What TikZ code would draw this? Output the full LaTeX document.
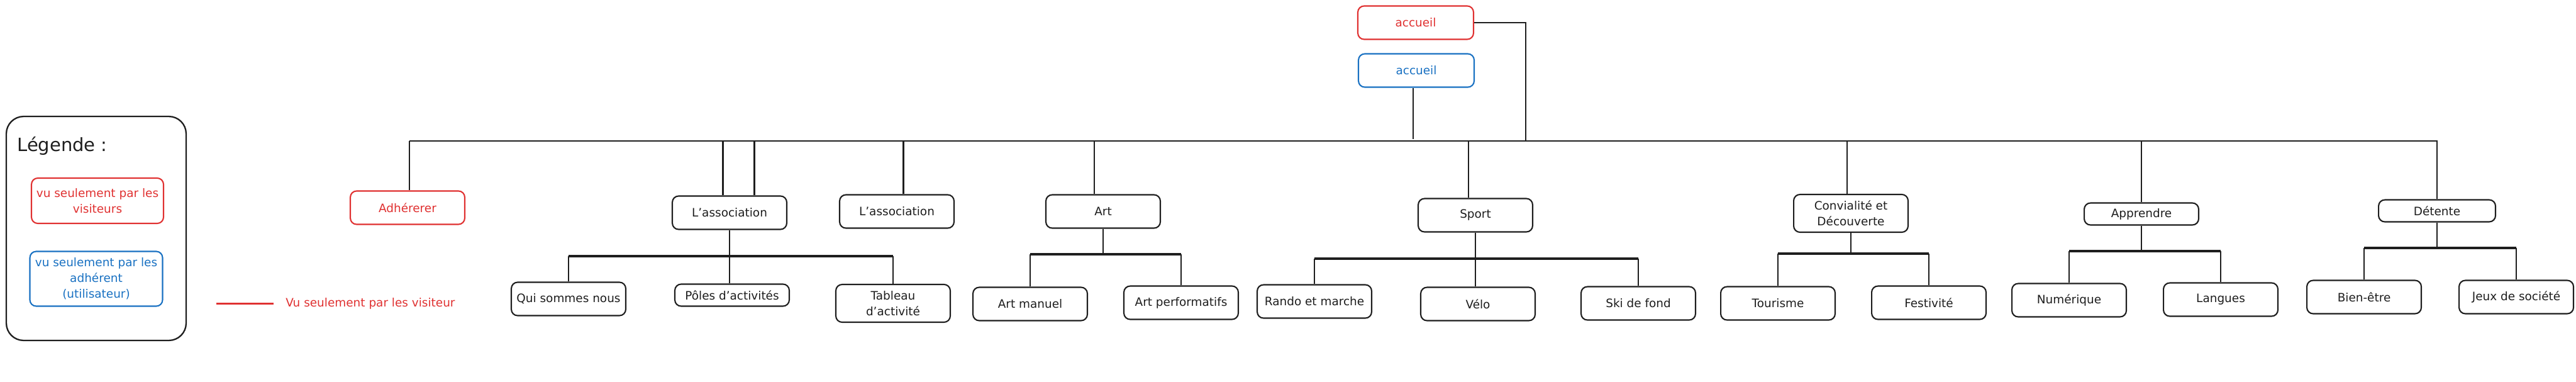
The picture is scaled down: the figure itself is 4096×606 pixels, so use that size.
\documentclass[tikz,border=0pt]{standalone}
\usepackage{fontspec}
\setmainfont{DejaVu Sans}
\definecolor{ink}{HTML}{1E1E1E}
\definecolor{exred}{HTML}{E03131}
\definecolor{exblue}{HTML}{1971C2}

\begin{document}
\begin{tikzpicture}[x=0.02cm,y=-0.02cm,
    box/.style={draw=ink,line width=1.2pt,rounded corners=0.2cm,minimum width=3.64cm,minimum height=1.06cm,inner sep=2pt,align=center,text=ink,font=\fontsize{10.5}{14.2}\selectfont},
    lowbox/.style={box,minimum height=0.7cm},
    tallbox/.style={box,minimum height=1.2cm},
    redbox/.style={box,draw=exred,text=exred},
    bluebox/.style={box,draw=exblue,text=exblue},
    link/.style={draw=ink,line width=1.2pt},
    bus/.style={draw=ink,line width=1.4pt},
    subbus/.style={draw=ink,line width=2pt}]

    \path[fill=white] (0,0) rectangle (4096,606);

    % legende
    \node[draw=ink,line width=1.3pt,rounded corners=0.55cm,minimum width=5.72cm,minimum height=7.12cm] (legend) at (153,363) {};
    \node[anchor=west,inner sep=0pt,text=ink,font=\fontsize{16.5}{19}\selectfont] (legtitle) at (27,232) {Légende :};
    \node[redbox,minimum width=4.2cm,minimum height=1.44cm] (legred) at (155,319) {vu seulement par les\\visiteurs};
    \node[bluebox,minimum width=4.22cm,minimum height=1.74cm] (legblue) at (153,443) {vu seulement par les\\adhérent\\(utilisateur)};
    \coordinate (keyA) at (344,482);
    \coordinate (keyB) at (435,482);
    \draw[exred,line width=1.7pt] (keyA) -- (keyB);
    \node[anchor=west,inner sep=0pt,text=exred,font=\fontsize{10.5}{14.2}\selectfont] (keytext) at (454,482) {Vu seulement par les visiteur};

    % accueil
    \node[redbox,minimum width=3.68cm] (accR) at (2251,36) {accueil};
    \node[bluebox,minimum width=3.68cm] (accB) at (2252,112) {accueil};

    % premier niveau
    \node[redbox] (adh) at (648,330) {Adhérerer};
    \node[box] (asso) at (1160,338) {L'association};
    \node[box] (asso2) at (1426,336) {L'association};
    \node[box] (art) at (1754,336) {Art};
    \node[box] (sport) at (2346,342) {Sport};
    \node[tallbox] (conv) at (2943,339) {Convialité et\\Découverte};
    \node[lowbox] (appr) at (3405,340) {Apprendre};
    \node[lowbox,minimum width=3.72cm] (det) at (3875,335) {Détente};

    % second niveau
    \node[box] (qui) at (904,475) {Qui sommes nous};
    \node[lowbox] (pol) at (1164,469) {Pôles d'activités};
    \node[tallbox] (tab) at (1420,482) {Tableau\\d'activité};
    \node[box] (artm) at (1638,483) {Art manuel};
    \node[box] (artp) at (1878,481) {Art performatifs};
    \node[box] (rando) at (2090,479) {Rando et marche};
    \node[box] (velo) at (2350,483) {Vélo};
    \node[box] (ski) at (2605,482) {Ski de fond};
    \node[box] (tour) at (2827,482) {Tourisme};
    \node[box] (fest) at (3067,481) {Festivité};
    \node[box] (num) at (3290,477) {Numérique};
    \node[box] (lang) at (3531,476) {Langues};
    \node[box] (bien) at (3759,472) {Bien-être};
    \node[box] (jeux) at (4001,472) {Jeux de société};

    % liaisons
    \coordinate (busL) at (651,224);
    \coordinate (redDrop) at (2426,224);
    \coordinate (blueDrop) at (2247,221);
    \draw[bus] (busL) -| (det.north);
    \draw[link] (accR.east) -| (redDrop);
    \draw[link] (accB.south -| blueDrop) -- (blueDrop);
    \draw[link] (busL) -- (busL |- adh.north);
    \foreach \n/\s in {asso/-0.21,asso/0.79,asso2/0.21,art/-0.28,conv/-0.12,appr/0}
        \draw[link] ([xshift=\s cm]\n.north) -- ([xshift=\s cm]\n.north |- busL);
    \draw[bus] ([xshift=-0.22cm]sport.north) -- ([xshift=-0.22cm]sport.north |- busL);

    \foreach \p/\a/\b/\y in {asso/qui/tab/407,art/artm/artp/404,sport/rando/ski/411,conv/tour/fest/403,appr/num/lang/399,det/bien/jeux/394} {
        \coordinate (lvl) at (0,\y);
        \coordinate (\p-bus) at (\p.south |- lvl);
        \draw[subbus] (\a.north |- lvl) -- (\b.north |- lvl);
        \draw[link] (\p.south) -- (\p-bus);
        \draw[link] (\a.north) -- (\a.north |- lvl);
        \draw[link] (\b.north) -- (\b.north |- lvl);
    }
    \draw[link] (asso-bus) -- (asso-bus |- pol.north);
    \draw[link] (sport-bus) -- (sport-bus |- velo.north);
\end{tikzpicture}
\end{document}
